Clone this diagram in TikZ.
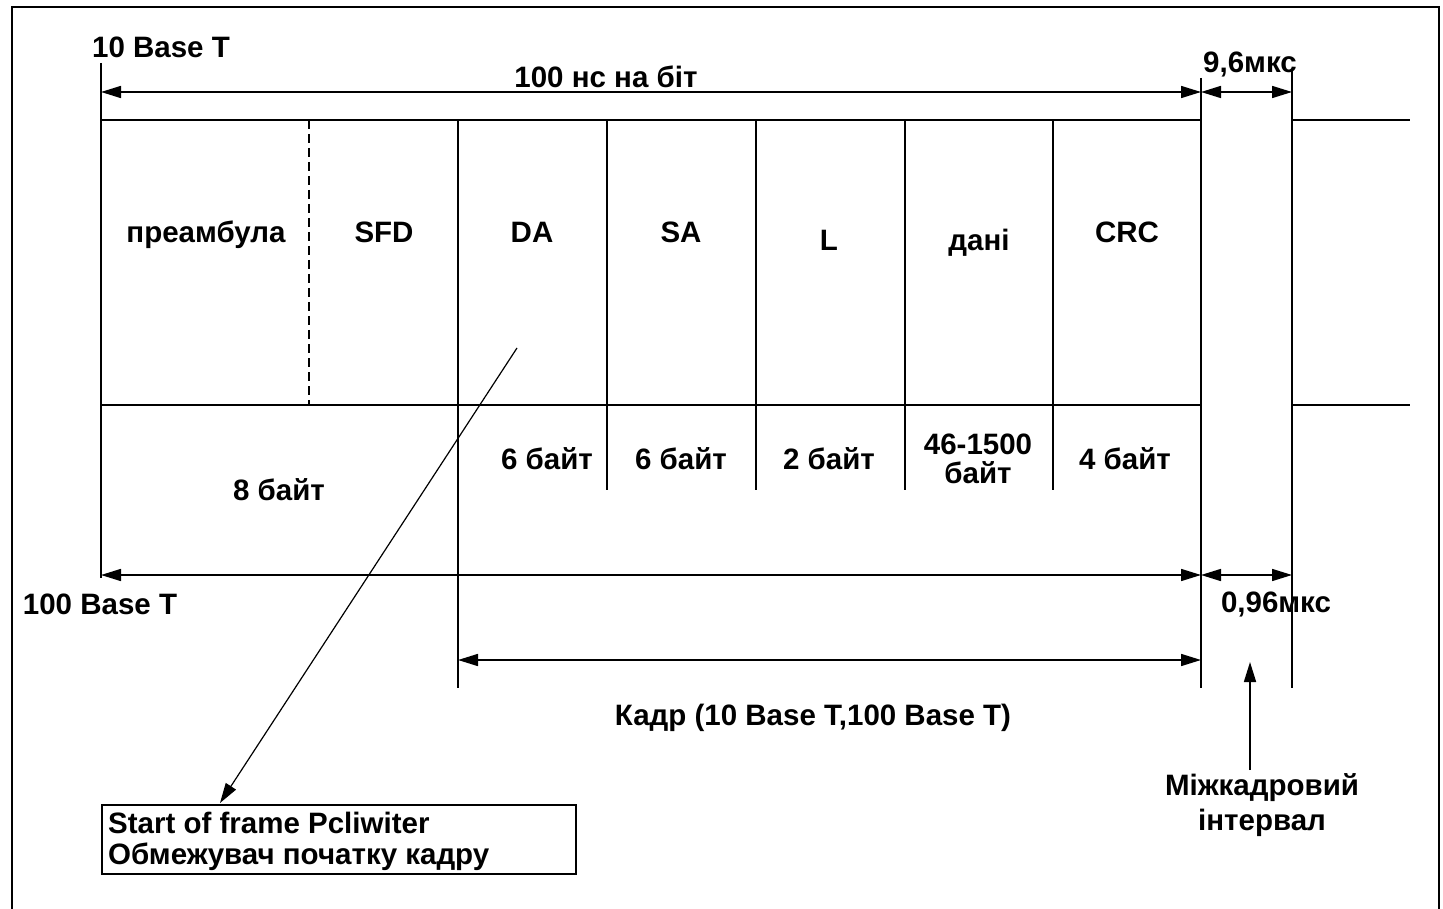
\documentclass[tikz,border=0pt]{standalone}
\usepackage{fontspec}
\setmainfont{Liberation Sans}
\usetikzlibrary{arrows.meta}
\begin{document}
\begin{tikzpicture}[x=1pt,y=-1pt,
  ln/.style={line width=1.6pt},
  frameline/.style={line width=2.6pt},
  dimarrow/.style={line width=1.6pt,{Triangle[length=20pt,width=12pt]}-{Triangle[length=20pt,width=12pt]}},
  onearrow/.style={line width=1.6pt,-{Triangle[length=20pt,width=12pt]}},
  lbl/.style={font=\fontsize{29.5}{34}\selectfont\bfseries, inner sep=0pt, anchor=base},
]
\useasboundingbox (0,0) rectangle (1443,909);
% outer frame (cut at bottom)
\coordinate (FBL) at (12,909);
\coordinate (FTR) at (1439,7);
\coordinate (FBR) at (1439,909);
\draw[frameline] (FBL) |- (FTR) -- (FBR);

% grid coordinates
\coordinate (L0) at (101,63);   \coordinate (L1) at (101,578);
\coordinate (T0) at (101,120);  \coordinate (T1) at (1201,120);
\coordinate (T2) at (1292,120); \coordinate (T3) at (1410,120);
\coordinate (M0) at (101,405);  \coordinate (M1) at (1201,405);
\coordinate (M2) at (1292,405); \coordinate (M3) at (1410,405);
\coordinate (D0) at (309,120);  \coordinate (D1) at (309,405);
\coordinate (A0) at (458,120);  \coordinate (A1) at (458,688);
\coordinate (B0) at (607,120);  \coordinate (B1) at (607,490);
\coordinate (C0) at (756,120);  \coordinate (C1) at (756,490);
\coordinate (E0) at (905,120);  \coordinate (E1) at (905,490);
\coordinate (G0) at (1053,120); \coordinate (G1) at (1053,490);
\coordinate (R0) at (1201,78);  \coordinate (R1) at (1201,688);
\coordinate (S0) at (1292,70);  \coordinate (S1) at (1292,688);

\draw[ln] (L0) -- (L1);
\draw[ln] (T0) -- (T1);
\draw[ln] (T2) -- (T3);
\draw[ln] (M0) -- (M1);
\draw[ln] (M2) -- (M3);
\draw[ln, dash pattern=on 9pt off 5pt] (D0) -- (D1);
\draw[ln] (A0) -- (A1);
\draw[ln] (B0) -- (B1);
\draw[ln] (C0) -- (C1);
\draw[ln] (E0) -- (E1);
\draw[ln] (G0) -- (G1);
\draw[ln] (R0) -- (R1);
\draw[ln] (S0) -- (S1);

% dimension arrows
\coordinate (dt0) at (101,92);  \coordinate (dt1) at (1201,92);  \coordinate (dt2) at (1292,92);
\coordinate (db0) at (101,575); \coordinate (db1) at (1201,575); \coordinate (db2) at (1292,575);
\coordinate (dk0) at (458,660); \coordinate (dk1) at (1201,660);
\draw[dimarrow] (dt0) -- (dt1);
\draw[dimarrow] (dt1) -- (dt2);
\draw[dimarrow] (db0) -- (db1);
\draw[dimarrow] (db1) -- (db2);
\draw[dimarrow] (dk0) -- (dk1);

% labels
\node[lbl] (tenbt) at (161,58) {10 Base T};
\node[lbl] (nsbit) at (606,88) {100 нс на біт};
\node[lbl] (t96) at (1250,73) {9,6мкс};
\node[lbl] (pre) at (206,243) {преамбула};
\node[lbl] (sfd) at (384,243) {SFD};
\node[lbl] (da) at (532,243) {DA};
\node[lbl] (sa) at (681,243) {SA};
\node[lbl] (ll) at (829,251) {L};
\node[lbl] (dani) at (979,251) {дані};
\node[lbl] (crc) at (1127,243) {CRC};
\node[lbl] (b6a) at (547,469) {6 байт};
\node[lbl] (b6b) at (681,469) {6 байт};
\node[lbl] (b2) at (829,469) {2 байт};
\node[lbl] (b46) at (978,454) {46-1500};
\node[lbl] (b46b) at (978,483) {байт};
\node[lbl] (b4) at (1125,469) {4 байт};
\node[lbl] (b8) at (279,500) {8 байт};
\node[lbl] (hbt) at (100,614) {100 Base T};
\node[lbl] (t096) at (1276,612) {0,96мкс};
\node[lbl] (kadr) at (813,725) {Кадр (10 Base T,100 Base T)};
\node[lbl] (mizh) at (1262,795) {Міжкадровий};
\node[lbl] (inter) at (1262,830) {інтервал};

% SFD box
\node[draw, line width=1.6pt, minimum width=474pt, minimum height=69pt, anchor=north west, inner sep=0pt] (box) at (101,804) {};
\node[lbl, anchor=base west] (boxl1) at (108,833) {Start of frame Pcliwiter};
\node[lbl, anchor=base west] (boxl2) at (108,864) {Обмежувач початку кадру};

% pointers
\coordinate (p0) at (517,348);
\coordinate (p1) at (220,803);
\draw[onearrow, line width=1.2pt] (p0) -- (p1);
\coordinate (u0) at (1250,770);
\coordinate (u1) at (1250,662);
\draw[onearrow] (u0) -- (u1);
\end{tikzpicture}
\end{document}
